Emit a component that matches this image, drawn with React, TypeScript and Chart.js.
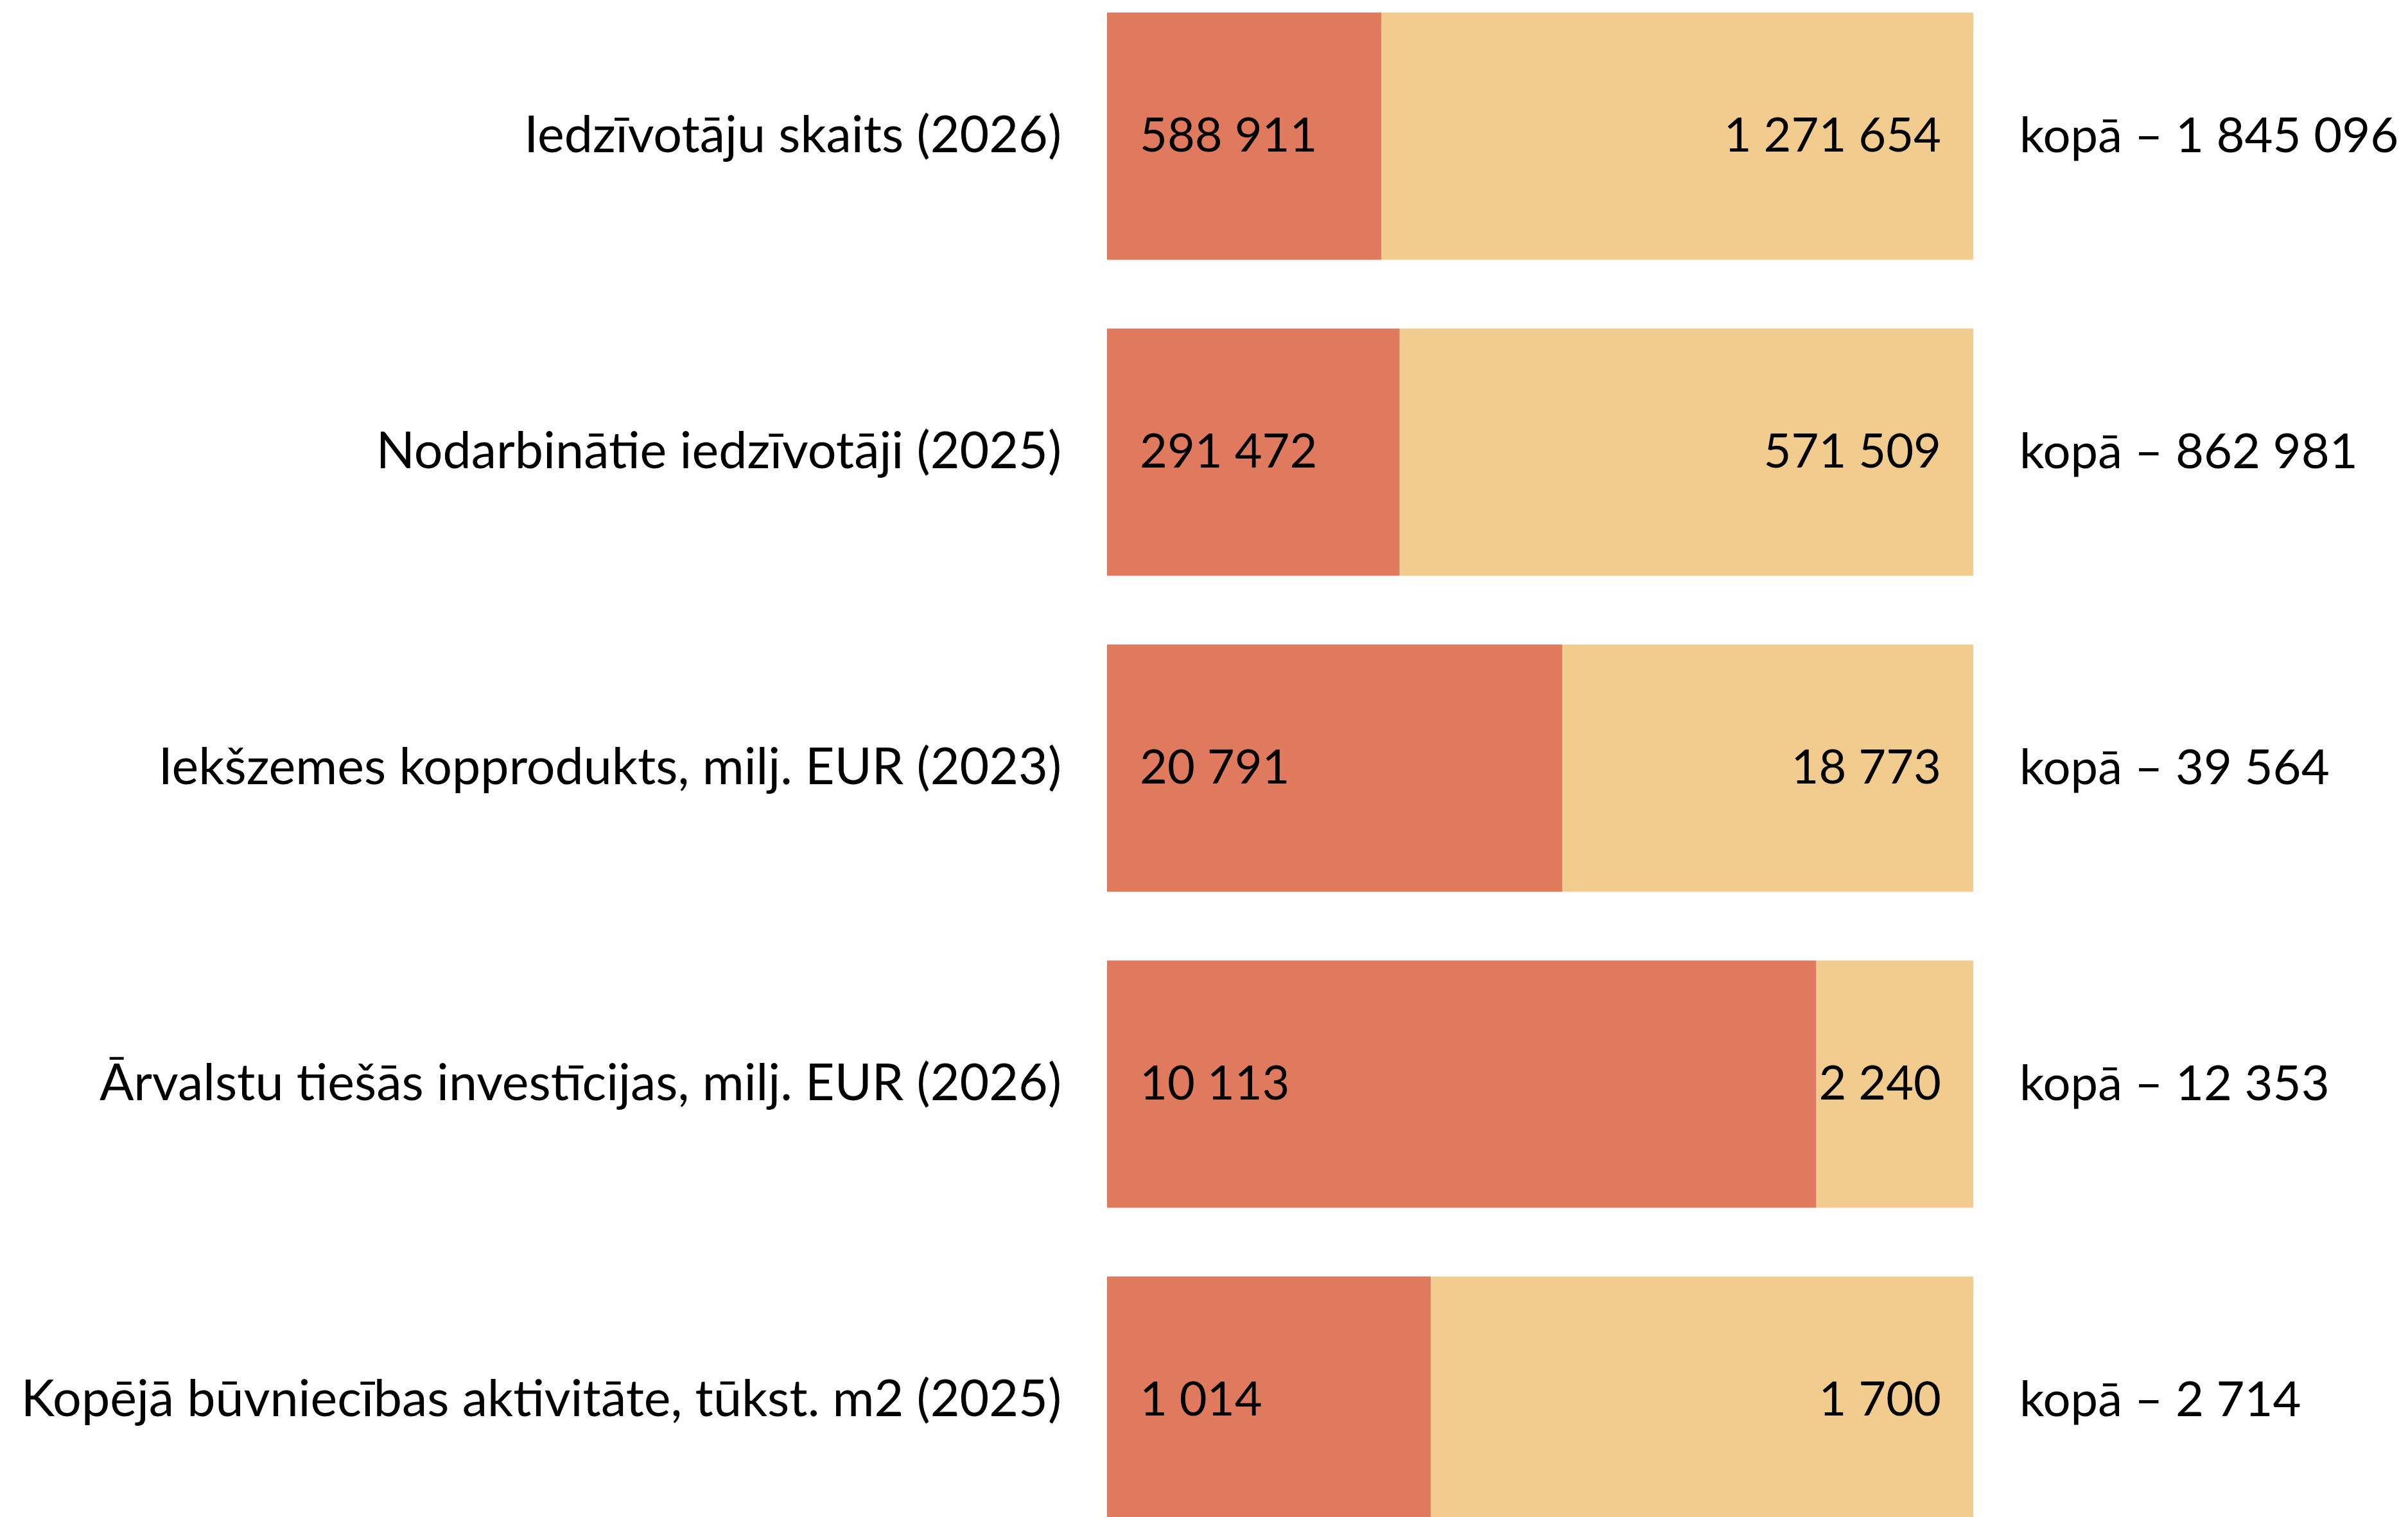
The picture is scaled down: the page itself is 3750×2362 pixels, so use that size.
import React, { useEffect, useRef } from "react";
import { Chart, registerables } from "chart.js";
Chart.register(...registerables);

const categories = [
  "Iedzīvotāju skaits (2026)",
  "Nodarbinātie iedzīvotāji (2025)",
  "Iekšzemes kopprodukts, milj. EUR (2023)",
  "Ārvalstu tiešās investīcijas, milj. EUR (2026)",
  "Kopējā būvniecības aktivitāte, tūkst. m2 (2025)",
];
const redValues = [588911, 291472, 20791, 10113, 1014];
const yellowValues = [1271654, 571509, 18773, 2240, 1700];
const totals = [1845096, 862981, 39564, 12353, 2714];

const RED = "#E07A5F";
const YELLOW = "#F2CC8F";
const FONT = "Lato";
const VALUE_SIZE = 74;
const LEFT_SIZE = 79;
const RIGHT_SIZE = 76;

const fmt = (n: number) => String(n).replace(/\B(?=(\d{3})+(?!\d))/g, " ");
const totalLabels = totals.map((t) => `kopā – ${fmt(t)}`);
const sums = redValues.map((r, i) => r + yellowValues[i]);
const redShare = redValues.map((r, i) => (r / sums[i]) * 100);
const yellowShare = yellowValues.map((y, i) => (y / sums[i]) * 100);
const rawSeries = [redValues, yellowValues];

const valueLabels = {
  id: "valueLabels",
  afterDatasetsDraw(chart: any) {
    const ctx = chart.ctx;
    ctx.save();
    ctx.font = `${VALUE_SIZE}px ${FONT}`;
    ctx.fillStyle = "#000";
    ctx.textBaseline = "middle";
    chart.data.datasets.forEach((_ds: any, di: number) => {
      const meta = chart.getDatasetMeta(di);
      meta.data.forEach((bar: any, i: number) => {
        const p = bar.getProps(["x", "y", "base"], true);
        const left = Math.min(p.x, p.base);
        const right = Math.max(p.x, p.base);
        const txt = fmt(rawSeries[di][i]);
        if (di === 0) {
          ctx.textAlign = "left";
          ctx.fillText(txt, left + 51, p.y);
        } else {
          ctx.textAlign = "right";
          ctx.fillText(txt, right - 50, p.y);
        }
      });
    });
    ctx.restore();
  },
};

export default function App() {
  const ref = useRef<HTMLCanvasElement | null>(null);
  useEffect(() => {
    if (!ref.current) return;
    const chart = new Chart(ref.current, {
      type: "bar",
      data: {
        labels: categories,
        datasets: [
          { data: redShare, backgroundColor: RED, borderWidth: 0, yAxisID: "y" },
          { data: yellowShare, backgroundColor: YELLOW, borderWidth: 0, yAxisID: "y" },
        ],
      },
      options: {
        indexAxis: "y",
        responsive: false,
        animation: false,
        layout: { padding: 0 },
        datasets: { bar: { barPercentage: 385 / 492, categoryPercentage: 1 } },
        plugins: { legend: { display: false }, tooltip: { enabled: false } },
        scales: {
          x: { type: "linear", stacked: true, min: 0, max: 100, display: false },
          y: {
            type: "category",
            position: "left",
            stacked: true,
            offset: true,
            grid: { display: false, drawTicks: false },
            border: { display: false },
            ticks: { color: "#000", padding: 71, font: { family: FONT, size: LEFT_SIZE } },
            afterFit: (s: any) => {
              s.width = 1724;
              s.paddingTop = 0;
              s.paddingBottom = 0;
            },
          },
          y2: {
            type: "category",
            position: "right",
            labels: totalLabels,
            offset: true,
            grid: { display: false, drawTicks: false },
            border: { display: false },
            ticks: { color: "#000", padding: 72, font: { family: FONT, size: RIGHT_SIZE } },
            afterFit: (s: any) => {
              s.width = 677;
              s.paddingTop = 0;
              s.paddingBottom = 0;
            },
          },
        },
      } as any,
      plugins: [valueLabels],
    });
    return () => chart.destroy();
  }, []);
  return (
    <div style={{ position: "fixed", left: 0, top: -34.5, width: 3750, height: 2460 }}>
      <canvas ref={ref} width={3750} height={2460} style={{ display: "block" }} />
    </div>
  );
}
